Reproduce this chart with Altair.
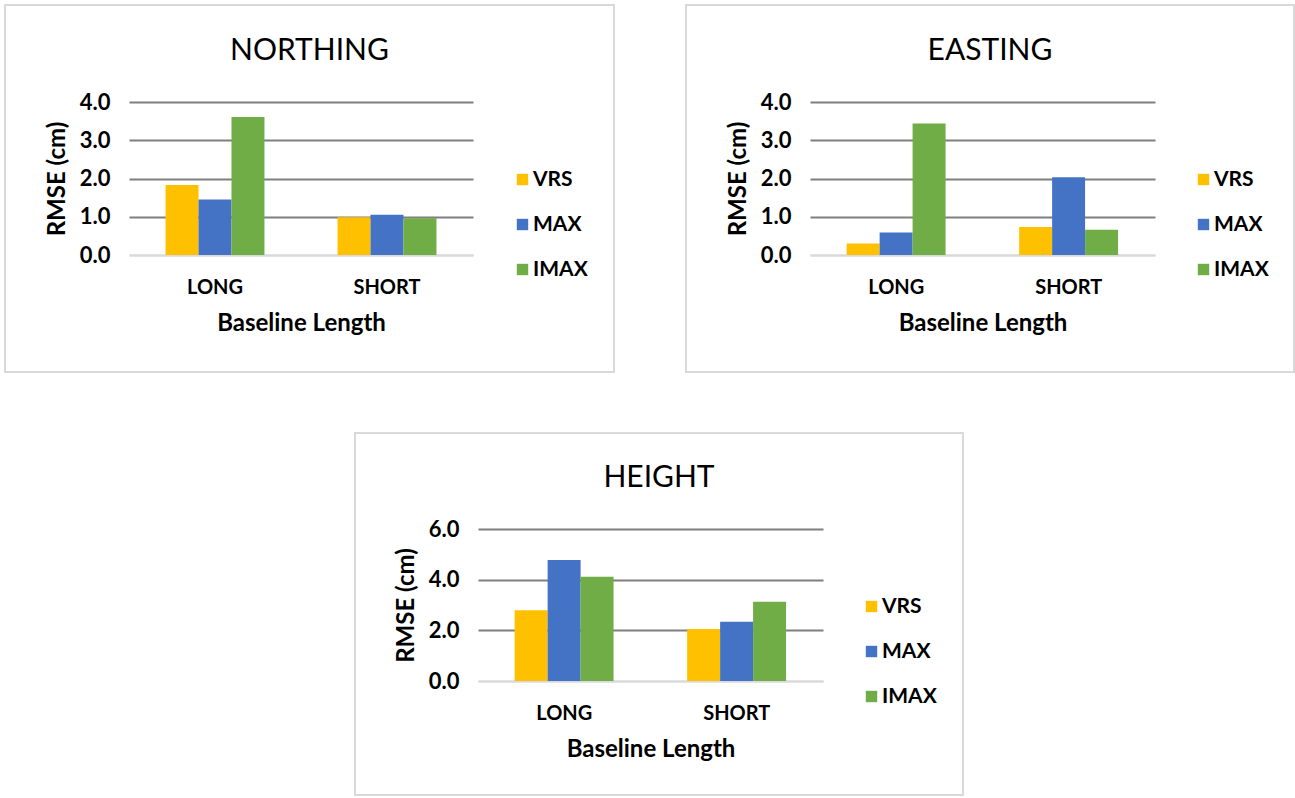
import altair as alt
import pandas as pd

baselines = ["LONG", "SHORT"]
series = ["VRS", "MAX", "IMAX"]
colors = ["#FFC000", "#4472C4", "#70AD47"]

northing_vrs = [1.83, 0.99]
northing_max = [1.45, 1.05]
northing_imax = [3.61, 0.96]

easting_vrs = [0.30, 0.73]
easting_max = [0.59, 2.03]
easting_imax = [3.44, 0.66]

height_vrs = [2.79, 2.05]
height_max = [4.78, 2.34]
height_imax = [4.12, 3.13]

northing_ticks = [0, 1, 2, 3, 4]
easting_ticks = [0, 1, 2, 3, 4]
height_ticks = [0, 2, 4, 6]

FONT = "Lato"


def make_df(vrs, mx, imax):
    rows = []
    for i, b in enumerate(baselines):
        for s, vals in zip(series, [vrs, mx, imax]):
            rows.append({"baseline": b, "series": s, "rmse": vals[i]})
    return pd.DataFrame(rows)


def panel(title, df, ticks, w, h, box):
    bx, bx2, by, by2 = box
    bars = alt.Chart(df).mark_bar().encode(
        x=alt.X(
            "baseline:N",
            sort=baselines,
            scale=alt.Scale(paddingInner=0.425, paddingOuter=0.2125),
            axis=alt.Axis(
                title="Baseline Length",
                labelAngle=0,
                labelFontSize=20,
                labelFontWeight="bold",
                labelColor="#000000",
                labelPadding=22,
                titleFontSize=24,
                titleFontWeight="bold",
                titleColor="#000000",
                titlePadding=14,
                ticks=False,
                domain=True,
                domainColor="#D9D9D9",
                domainWidth=2,
            ),
        ),
        xOffset=alt.XOffset("series:N", sort=series, scale=alt.Scale(domain=series)),
        y=alt.Y(
            "rmse:Q",
            scale=alt.Scale(domain=[ticks[0], ticks[-1]], nice=False),
            axis=alt.Axis(
                title="RMSE (cm)",
                values=ticks,
                format=".1f",
                labelFontSize=22,
                labelFontWeight="bold",
                labelColor="#000000",
                labelPadding=19,
                titleFontSize=24,
                titleFontWeight="bold",
                titleColor="#000000",
                titlePadding=10,
                ticks=False,
                domain=False,
                grid=True,
                gridColor=alt.condition("datum.value == 0", alt.value("#D9D9D9"), alt.value("#7F7F7F")),
                gridWidth=2,
            ),
        ),
        color=alt.Color(
            "series:N",
            sort=series,
            scale=alt.Scale(domain=series, range=colors),
            legend=alt.Legend(
                title=None,
                orient="none",
                legendX=383,
                legendY=67,
                symbolType="square",
                symbolSize=130,
                symbolStrokeWidth=0,
                labelFontSize=21,
                labelFontWeight="bold",
                labelColor="#000000",
                labelOffset=0,
                rowPadding=23,
                padding=0,
            ),
        ),
    )
    border = alt.Chart(pd.DataFrame({"k": [0]})).mark_rect(
        fillOpacity=0, stroke="#D9D9D9", strokeWidth=2
    ).encode(
        x=alt.value(bx), x2=alt.value(bx2), y=alt.value(by), y2=alt.value(by2)
    )
    ttl = alt.Chart(pd.DataFrame({"t": [title]})).mark_text(
        font=FONT, fontSize=30, color="#000000", align="center", baseline="alphabetic"
    ).encode(
        text="t:N", x=alt.value((bx + bx2) / 2), y=alt.value(-42)
    )
    return alt.layer(border, ttl, bars).properties(width=w, height=h)


north = panel("NORTHING", make_df(northing_vrs, northing_max, northing_imax),
              northing_ticks, 344, 153, (-124, 485, -97, 270))
east = panel("EASTING", make_df(easting_vrs, easting_max, easting_imax),
             easting_ticks, 345, 153, (-124, 484, -97, 270))
height = panel("HEIGHT", make_df(height_vrs, height_max, height_imax),
               height_ticks, 345, 152, (-123, 485, -96, 266))

spacer = alt.Chart(pd.DataFrame({"k": [0]})).mark_point(opacity=0).encode(
    x=alt.value(0), y=alt.value(0)
).properties(width=225, height=10)

top = alt.hconcat(north, east, spacing=70).resolve_scale(color="independent").resolve_legend(color="independent")
bottom = alt.hconcat(spacer, height, spacing=0).resolve_scale(color="independent").resolve_legend(color="independent")

chart = alt.vconcat(top, bottom, spacing=59).resolve_scale(
    color="independent"
).resolve_legend(color="independent").properties(
    padding={"left": 4, "top": 4, "right": 0, "bottom": 0}
).configure(
    font=FONT, background="#FFFFFF"
).configure_view(
    stroke=None
)

chart.save("out.html", embed_options={"renderer": "svg", "actions": False})
